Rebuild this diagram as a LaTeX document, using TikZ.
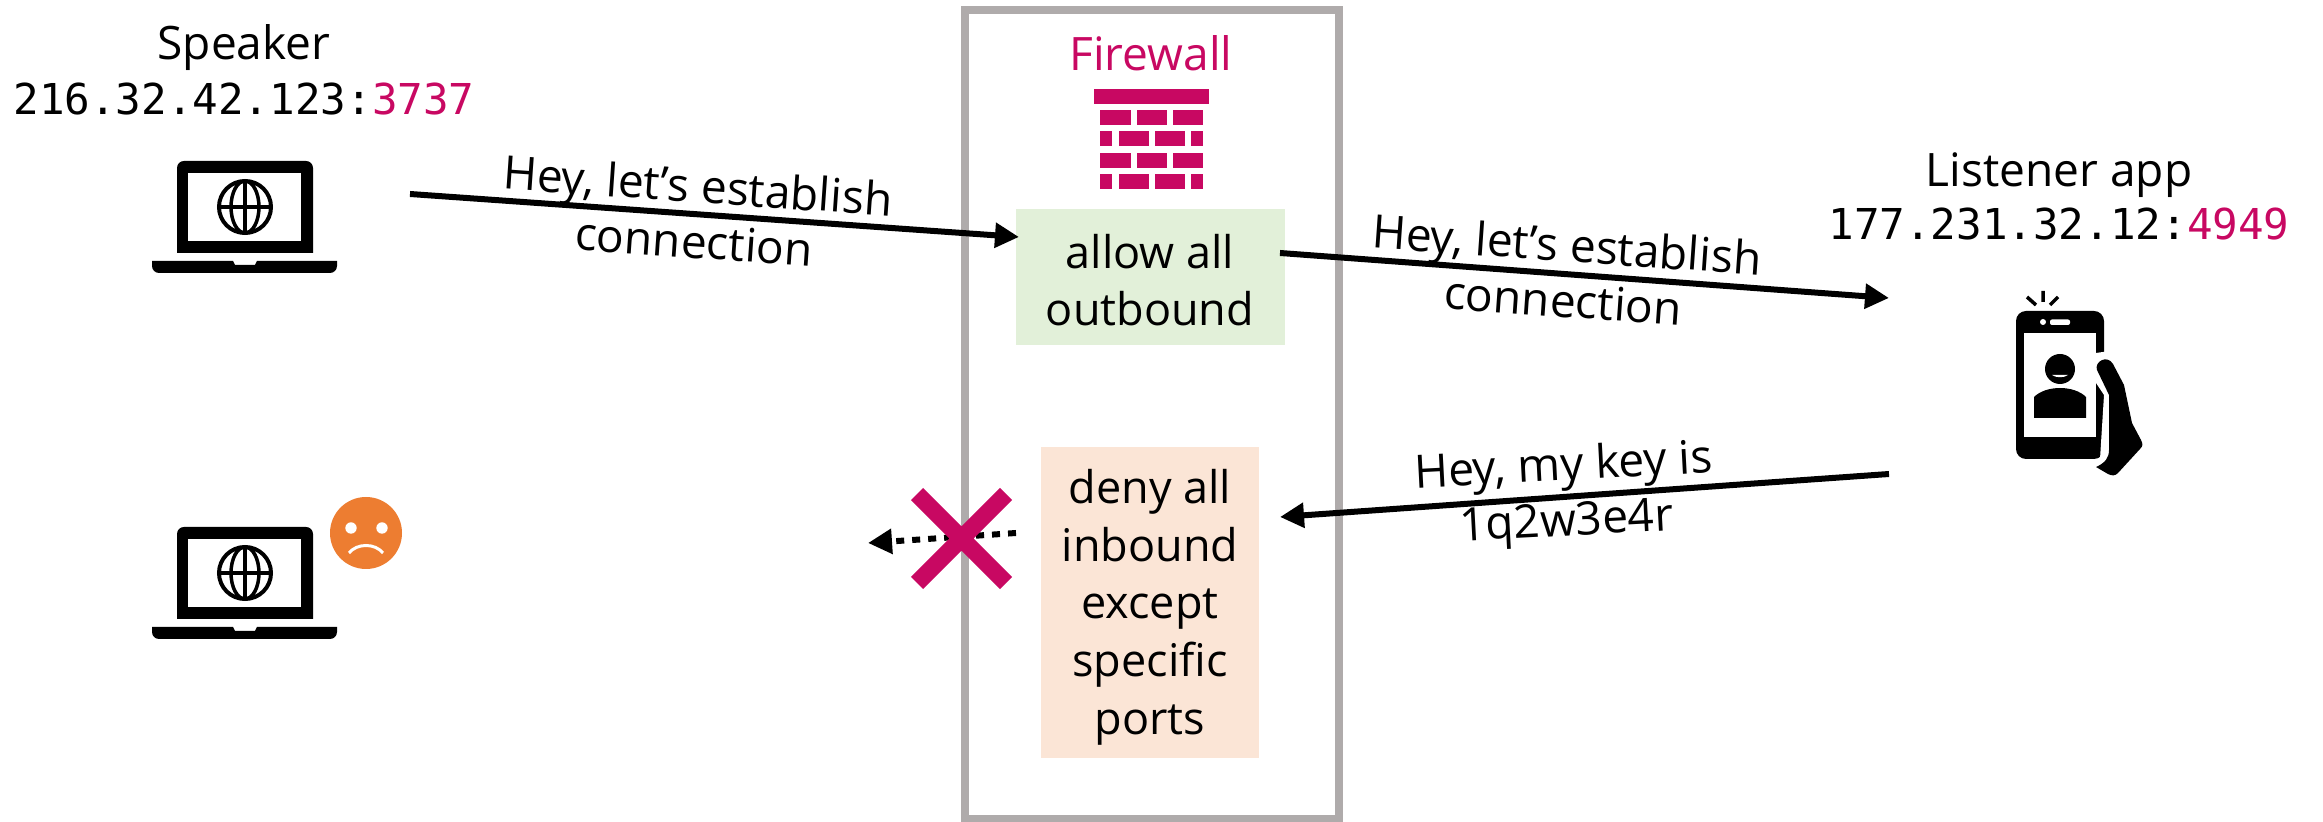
\documentclass[tikz,border=0pt]{standalone}
\usepackage{fontspec}
\setmainfont{Open Sans}
\setmonofont{DejaVu Sans Mono}
\usetikzlibrary{arrows.meta}
\definecolor{fwred}{HTML}{C80862}
\definecolor{fwgray}{HTML}{AFABAB}
\definecolor{allowgreen}{HTML}{E2F0D9}
\definecolor{denyorange}{HTML}{FBE5D6}
\definecolor{sadorange}{HTML}{ED7D31}
\newcommand{\porthl}[1]{\textcolor{fwred}{#1}}
\tikzset{
	lbl/.style={font=\fontsize{13.1}{15.8}\selectfont, align=center, inner sep=0pt},
	addr/.style={font=\fontsize{12.1}{14}\selectfont\ttfamily, inner sep=0pt},
	rulebox/.style={lbl, font=\fontsize{12.8}{16.4}\selectfont},
	msg/.style={-{Triangle[length=0.24cm,width=0.24cm]}, line width=0.06cm},
	laptop/.pic={
		\fill (-68,46) [rounded corners=0.07cm] -- (-68,-46) -- (68,-46) [sharp corners] -- (68,46) -- cycle;
		\fill[white] (-57,-34) rectangle (56,34);
		\draw[line width=0.04cm] (0,0) circle[radius=26];
		\draw[line width=0.035cm] (0,0) ellipse[x radius=14, y radius=26];
		\draw[line width=0.035cm] (-26,0) -- (26,0) (0,-26) -- (0,26);
		\fill (-93,54) -- (-12,54) -- (-10,58) -- (10,58) -- (12,54) -- (92,54) [rounded corners=0.07cm] -- (92,66) -- (-93,66) [sharp corners] -- cycle;
	}
}
\begin{document}
\begin{tikzpicture}[x=0.01cm,y=-0.01cm]
	\useasboundingbox (0,0) rectangle (2323,822);
	% firewall
	\draw[fwgray, line width=0.08cm] (965,10) rectangle (1339,819);
	\node[lbl, text=fwred] (firewall) at (1151,53) {Firewall};
	\fill[fwred] (1094,89) rectangle (1209,104);
	\foreach \y in {110,153} {
		\foreach \a/\b in {1100/1131,1137/1167,1173/1203}
			\fill[fwred] (\a,\y) rectangle (\b,\y+15);
	}
	\foreach \y in {131,174} {
		\foreach \a/\b in {1100/1112,1119/1149,1155/1185,1191/1203}
			\fill[fwred] (\a,\y) rectangle (\b,\y+15);
	}
	\fill[allowgreen] (1016,209) rectangle (1285,345);
	\node[rulebox] (allow) at (1150,280) {allow all\\outbound};
	\fill[denyorange] (1041,447) rectangle (1259,758);
	\node[rulebox] (deny) at (1150,607) {deny all\hspace{0.5em}\\inbound\\except\\specific\\ports};
	% speaker
	\node[lbl] (speaker) at (244,48) {Speaker};
	\node[addr] (speakeraddr) at (244,99) {216.32.42.123:\porthl{3737}};
	\pic at (245,207) {laptop};
	% listener
	\node[lbl] (listener) at (2059,175) {Listener app};
	\node[addr] (listeneraddr) at (2059,224) {177.231.32.12:\porthl{4949}};
	% phone
	\fill[rounded corners=0.1cm] (2016,311) rectangle (2104,459);
	\fill[white] (2024,333) rectangle (2096,437);
	\fill[white, rounded corners=0.02cm] (2050,319.5) rectangle (2070,325);
	\fill[white] (2043,322) circle[radius=3];
	\draw[line width=0.035cm] (2027,297) -- (2036,305) (2043,291) -- (2043,302) (2058,297) -- (2050,305);
	\fill (2060,369) circle[radius=15];
	\fill[white] (2052,375) .. controls (2056,378) and (2064,378) .. (2068,375) -- cycle;
	\fill (2034,418) -- (2034,397) .. controls (2040,391) and (2050,388) .. (2060,388)
		.. controls (2070,388) and (2080,391) .. (2086,397) -- (2086,418) -- cycle;
	\fill[white] (2096,353) -- (2110,351) -- (2114,450) -- (2104,470) -- (2100,459) -- (2104,395) -- (2096,383) -- cycle;
	\fill (2097,370) .. controls (2094,362) and (2107,354) .. (2113,364)
		-- (2124,385) -- (2132,423) -- (2141,440) .. controls (2143,444) and (2143,446) .. (2140,449)
		-- (2118,473) .. controls (2115,476) and (2112,476) .. (2108,474) -- (2096,467)
		.. controls (2105,463) and (2109,458) .. (2109,450) -- (2109,395) -- cycle;
	% messages
	\coordinate (speakerout) at (410,194);
	\coordinate (allowin) at (1019,237);
	\coordinate (allowout) at (1280,253);
	\coordinate (listenerin) at (1889,298);
	\coordinate (listenerout) at (1889,474);
	\coordinate (denyin) at (1280,517);
	\coordinate (denyout) at (1016,533);
	\coordinate (blocked) at (868,543);
	\draw[msg] (speakerout) -- (allowin);
	\draw[msg] (allowout) -- (listenerin);
	\draw[msg] (listenerout) -- (denyin);
	\draw[msg, dash pattern=on 0.08cm off 0.08cm] (denyout) -- (blocked);
	\node[lbl, rotate=-4] (msgone) at (696,213) {Hey, let's establish\\connection};
	\node[lbl, rotate=-4] (msgtwo) at (1565,272) {Hey, let's establish\\connection};
	\node[lbl, rotate=3] (msgthree) at (1565,496) {Hey, my key is\\1q2w3e4r};
	% blocked cross
	\draw[fwred, line width=0.17cm] (917,494) -- (1006,583) (1006,494) -- (917,583);
	% sad laptop
	\pic at (245,573) {laptop};
	\fill[sadorange] (366,533) circle[radius=36];
	\fill[white] (351,528) circle[radius=5.7] (382,528) circle[radius=5.7];
	\draw[white, line width=0.03cm] (349,553) .. controls (357,543) and (375,543) .. (383,553);
\end{tikzpicture}
\end{document}
